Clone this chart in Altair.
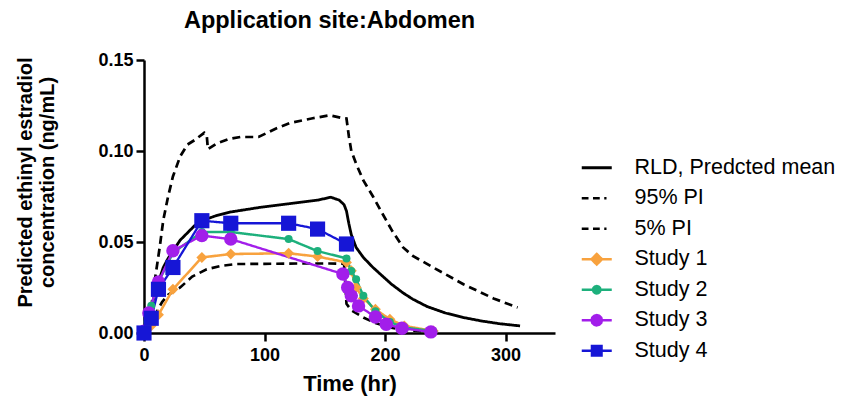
import altair as alt
import pandas as pd

# ---------------- data ----------------
mean_t = [0, 2, 5, 8, 12, 16, 20, 24, 30, 36, 42, 48, 60, 72, 96, 120, 144, 155, 162, 166, 168, 170, 172, 176, 182, 190, 196, 205, 215, 223, 235, 250, 265, 280, 295, 312]
mean_c = [0, 0.004, 0.011, 0.019, 0.028, 0.036, 0.041, 0.045, 0.051, 0.055, 0.059, 0.0617, 0.0645, 0.0665, 0.069, 0.071, 0.073, 0.0746, 0.073, 0.0705, 0.067, 0.060, 0.054, 0.047, 0.0415, 0.036, 0.0324, 0.027, 0.022, 0.0186, 0.0145, 0.011, 0.0085, 0.0066, 0.0051, 0.0039]

upper_t = [0, 3, 6, 9, 13, 16, 20, 24, 30, 36, 42, 50, 52, 53, 60, 70, 80, 95, 110, 121, 140, 154, 165, 168, 170, 172, 176, 182, 190, 198, 206, 215, 223, 240, 265, 290, 310]
upper_c = [0, 0.004, 0.014, 0.029, 0.047, 0.062, 0.075, 0.086, 0.097, 0.1035, 0.106, 0.110, 0.109, 0.101, 0.104, 0.1065, 0.1077, 0.1077, 0.1125, 0.1154, 0.118, 0.1196, 0.118, 0.1178, 0.108, 0.100, 0.093, 0.0838, 0.075, 0.0654, 0.056, 0.047, 0.0424, 0.036, 0.0268, 0.019, 0.014]

lower_t = [5, 10, 15, 20, 30, 40, 52, 65, 77, 100, 130, 154, 166, 168, 172, 182, 192, 204, 220, 240]
lower_c = [0.002, 0.011, 0.017, 0.021, 0.025, 0.031, 0.035, 0.037, 0.0379, 0.038, 0.0382, 0.0382, 0.038, 0.016, 0.0125, 0.0085, 0.0055, 0.003, 0.0015, 0.0005]

s1_t = [0, 6, 12, 24, 48, 72, 120, 144, 168, 172, 176, 182, 192, 204, 216, 240]
s1_c = [0, 0.004, 0.010, 0.024, 0.0415, 0.0434, 0.0438, 0.042, 0.0388, 0.0342, 0.025, 0.019, 0.013, 0.0075, 0.0039, 0.0011]

s2_t = [0, 3, 6, 12, 24, 48, 72, 120, 144, 168, 172, 176, 182, 192, 204, 216, 240]
s2_c = [0, 0.006, 0.015, 0.028, 0.044, 0.0555, 0.0555, 0.0516, 0.045, 0.041, 0.034, 0.0296, 0.0204, 0.012, 0.006, 0.003, 0.001]

s3_t = [0, 4, 12, 24, 48, 72, 165, 169, 172, 178, 192, 201, 214, 238]
s3_c = [0.001, 0.011, 0.028, 0.0452, 0.0535, 0.0516, 0.0324, 0.025, 0.0204, 0.0149, 0.0088, 0.0048, 0.0026, 0.0006]

s4_t = [0, 6, 12, 24, 48, 72, 120, 144, 168]
s4_c = [0, 0.0081, 0.024, 0.036, 0.0617, 0.0603, 0.0603, 0.0571, 0.0489]

names = ["RLD, Predcted mean", "95% PI", "5% PI", "Study 1", "Study 2", "Study 3", "Study 4"]
colors = ["#000000", "#000000", "#000000", "#F8A23E", "#1DB07C", "#A21EEA", "#1616D6"]
dashes = [[1, 0], [8, 5], [8, 5], [1, 0], [1, 0], [1, 0], [1, 0]]
stroke_w = [2.8, 2.3, 2.3, 2.5, 2.5, 2.5, 2.5]
marker_sizes = [120, 64, 180, 230]
marker_shapes = ["diamond", "circle", "circle", "square"]

# legend symbols: line stub plus marker (polygon approximations for circles)
legend_paths = [
    "M-2,0H2",
    "M-2,0H-1.1M-0.5,0H0.4M1,0H1.3",
    "M-2,0H-1.1M-0.5,0H0.4M1,0H1.3",
    "M-2,0H2M0,-0.7L0.7,0L0,0.7L-0.7,0Z",
    "M-2,0H2M0.5,0L0.433,0.25L0.25,0.433L0,0.5L-0.25,0.433L-0.433,0.25L-0.5,0L-0.433,-0.25L-0.25,-0.433L0,-0.5L0.25,-0.433L0.433,-0.25Z",
    "M-2,0H2M0.7,0L0.606,0.35L0.35,0.606L0,0.7L-0.35,0.606L-0.606,0.35L-0.7,0L-0.606,-0.35L-0.35,-0.606L0,-0.7L0.35,-0.606L0.606,-0.35Z",
    "M-2,0H2M-0.65,-0.65H0.65V0.65H-0.65Z",
]

series = [(mean_t, mean_c), (upper_t, upper_c), (lower_t, lower_c),
          (s1_t, s1_c), (s2_t, s2_c), (s3_t, s3_c), (s4_t, s4_c)]

rows = []
for i, (ts, cs) in enumerate(series):
    for j, (t, c) in enumerate(zip(ts, cs)):
        rows.append({"series": names[i], "t": t, "c": c, "idx": j})
df = pd.DataFrame(rows)

FONT = "Liberation Sans"

color_scale = alt.Scale(domain=names, range=colors)
legend = alt.Legend(
    title=None, orient="none", legendX=442, legendY=97,
    labelFont=FONT, labelFontSize=21.5, labelColor="#000000",
    symbolSize=225, symbolStrokeWidth=2.5, labelOffset=27,
    rowPadding=7.5, labelLimit=400,
)

xenc = alt.X("t:Q", scale=alt.Scale(domain=[0, 341], nice=False),
             axis=alt.Axis(values=[0, 100, 200, 300], title="Time (hr)"))
yenc = alt.Y("c:Q", scale=alt.Scale(domain=[0, 0.15], nice=False),
             axis=alt.Axis(values=[0, 0.05, 0.10, 0.15], format=".2f", titleY=122,
                           title=["Predicted ethinyl estradiol", "concentration (ng/mL)"]))

lines = alt.Chart(df).mark_line(clip=False).encode(
    x=xenc, y=yenc,
    color=alt.Color("series:N", scale=color_scale, legend=legend),
    strokeDash=alt.StrokeDash("series:N", scale=alt.Scale(domain=names, range=dashes), legend=None),
    strokeWidth=alt.StrokeWidth("series:N", scale=alt.Scale(domain=names, range=stroke_w), legend=None),
    detail="series:N",
    order="idx:Q",
)

# legend shapes (no visible data in this layer)
legend_layer = alt.Chart(df).transform_filter(alt.datum.c < 0).mark_point(
    filled=True, opacity=1
).encode(
    x="t:Q", y="c:Q",
    color=alt.Color("series:N", scale=color_scale, legend=legend),
    shape=alt.Shape("series:N", scale=alt.Scale(domain=names, range=legend_paths), legend=legend),
)

marker_layers = []
for k, nm in enumerate(names[3:]):
    marker_layers.append(
        alt.Chart(df).transform_filter(alt.datum.series == nm).mark_point(
            filled=True, opacity=1, shape=marker_shapes[k], size=marker_sizes[k],
            color=colors[3 + k], clip=False
        ).encode(x="t:Q", y="c:Q")
    )

chart = alt.layer(lines, legend_layer, *marker_layers).properties(
    width=411, height=273,
    title=alt.TitleParams("Application site:Abdomen", font=FONT, fontSize=23.5,
                          fontWeight="bold", color="#000000", anchor="middle", dx=-20, offset=19),
    autosize=alt.AutoSizeParams(type="none"),
    padding={"left": 144, "top": 60, "right": 287, "bottom": 64},
).configure_view(stroke=None).configure_axis(
    domainColor="#000000", domainWidth=2.5, tickColor="#000000", tickWidth=2.5, tickSize=8,
    labelFont=FONT, labelFontSize=18, labelFontWeight="bold", labelColor="#000000",
    titleFont=FONT, titleFontWeight="bold", titleColor="#000000",
    grid=False, labelFlush=False,
).configure_axisX(titlePadding=9, titleFontSize=22, labelPadding=5).configure_axisY(
    titlePadding=40, titleFontSize=20, labelPadding=3)

chart.save("out.html", embed_options={"renderer": "svg", "actions": False})
